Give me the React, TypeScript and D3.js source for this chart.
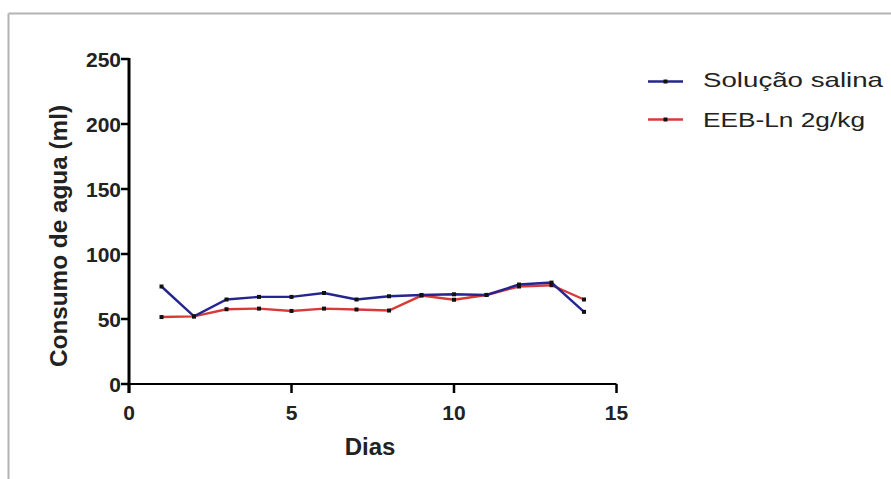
import React from "react";
import * as d3 from "d3";

const days = [1, 2, 3, 4, 5, 6, 7, 8, 9, 10, 11, 12, 13, 14];
const salina = [75, 52, 65, 67, 67, 70, 65, 67.5, 68.5, 69, 68.5, 76.5, 78, 55.5];
const eeb = [51.5, 52, 57.5, 58, 56.2, 58, 57.3, 56.5, 68, 64.8, 68.5, 75, 76, 65];
const seriesNames = ["Solução salina", "EEB-Ln 2g/kg"];
const seriesColors = ["#25258f", "#d83a3a"];
const xTicks = [0, 5, 10, 15];
const yTicks = [0, 50, 100, 150, 200, 250];

const W = 891;
const H = 479;

export default function App() {
  const x = d3.scaleLinear().domain([0, 15]).range([129, 616.5]);
  const y = d3.scaleLinear().domain([0, 250]).range([384, 59]);
  const line = d3
    .line<number>()
    .x((_, i) => x(days[i]))
    .y((d) => y(d));
  const all = [salina, eeb];
  const tickFont = "'Liberation Sans', Arial, sans-serif";

  return (
    <svg
      width={W}
      height={H}
      style={{ position: "absolute", left: 0, top: 0, display: "block", background: "#fff" }}
    >
      {/* frame */}
      <line x1={8.5} y1={13.5} x2={W} y2={13.5} stroke="#b4b4b4" strokeWidth={2} />
      <line x1={8.5} y1={13.5} x2={8.5} y2={H} stroke="#b4b4b4" strokeWidth={2} />

      {/* y axis */}
      <line x1={x(0)} y1={y(250) - 1} x2={x(0)} y2={y(0) + 9} stroke="#000" strokeWidth={3} />
      {yTicks.map((t) => (
        <g key={"y" + t}>
          <line x1={x(0) - 8} x2={x(0)} y1={y(t)} y2={y(t)} stroke="#000" strokeWidth={2.5} />
          <text
            x={x(0) - 8}
            y={y(t)}
            dy="0.36em"
            textAnchor="end"
            fontFamily={tickFont}
            fontWeight="bold"
            fontSize={21}
            fill="#222"
          >
            {t}
          </text>
        </g>
      ))}

      {/* x axis */}
      <line x1={x(0)} y1={y(0)} x2={x(15)} y2={y(0)} stroke="#000" strokeWidth={2} />
      {xTicks.map((t) => (
        <g key={"x" + t}>
          <line x1={x(t)} x2={x(t)} y1={y(0)} y2={y(0) + 9} stroke="#000" strokeWidth={2.5} />
          <text
            x={x(t)}
            y={420}
            textAnchor="middle"
            fontFamily={tickFont}
            fontWeight="bold"
            fontSize={21}
            fill="#222"
          >
            {t}
          </text>
        </g>
      ))}

      {/* axis titles */}
      <text
        x={370}
        y={455}
        textAnchor="middle"
        fontFamily={tickFont}
        fontWeight="bold"
        fontSize={24}
        fill="#222"
      >
        Dias
      </text>
      <text
        transform="translate(67,236) rotate(-90)"
        textAnchor="middle"
        fontFamily={tickFont}
        fontWeight="bold"
        fontSize={23}
        fill="#222"
        textLength={262}
        lengthAdjust="spacingAndGlyphs"
      >
        Consumo de agua (ml)
      </text>

      {/* series: red drawn first, blue on top */}
      {[1, 0].map((si) => (
        <g key={"s" + si}>
          <path d={line(all[si]) || ""} fill="none" stroke={seriesColors[si]} strokeWidth={2.4} />
          {all[si].map((v, i) => (
            <rect key={i} x={x(days[i]) - 2} y={y(v) - 2} width={4} height={4} fill="#111" />
          ))}
        </g>
      ))}

      {/* legend */}
      {seriesNames.map((name, i) => {
        const ly = [81.5, 119.5][i];
        return (
          <g key={"l" + i}>
            <line x1={648} x2={683} y1={ly} y2={ly} stroke={seriesColors[i]} strokeWidth={2.4} />
            <rect x={663.5} y={ly - 2} width={4} height={4} fill="#111" />
            <text
              x={703}
              y={[87, 127][i]}
              fontFamily={tickFont}
              fontSize={21}
              fill="#222"
              textLength={[180, 162][i]}
              lengthAdjust="spacingAndGlyphs"
            >
              {name}
            </text>
          </g>
        );
      })}
    </svg>
  );
}
